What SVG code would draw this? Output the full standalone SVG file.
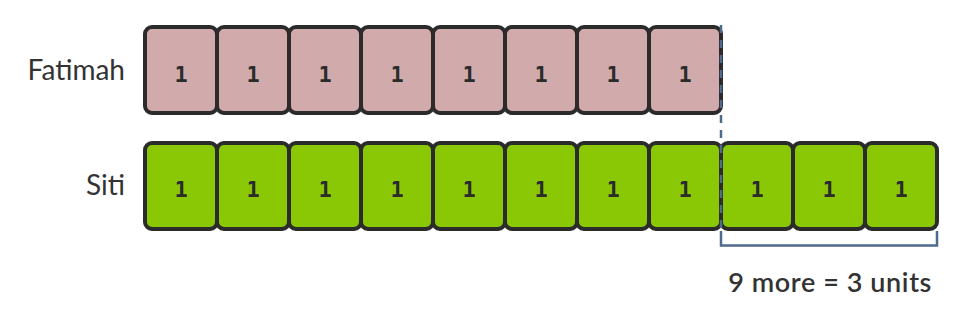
<svg xmlns="http://www.w3.org/2000/svg" width="963" height="320" viewBox="0 0 963 320">
<style>
.f{fill:#d1abab;stroke:#2b2b2b;stroke-width:4}
.s{fill:#8ac806;stroke:#2b2b2b;stroke-width:4}
.n{font-family:"DejaVu Sans Mono","Liberation Mono",monospace;font-weight:bold;font-size:22px;fill:#2b2b2b;text-anchor:middle}
.lbl{font-family:Lato,"Open Sans",sans-serif;font-size:28px;fill:#333;text-anchor:end}
.c{fill:none;stroke:#4f6a8f;stroke-width:2.5}
</style>
<rect width="963" height="320" fill="#fff"/>
<text class="lbl" x="125" y="80">Fatimah</text>
<text class="lbl" x="125" y="195">Siti</text>
<g id="fatimah">
<rect class="f" x="145" y="27" width="72" height="86" rx="7"/><text class="n" x="181" y="82">1</text>
<rect class="f" x="217" y="27" width="72" height="86" rx="7"/><text class="n" x="253" y="82">1</text>
<rect class="f" x="289" y="27" width="72" height="86" rx="7"/><text class="n" x="325" y="82">1</text>
<rect class="f" x="361" y="27" width="72" height="86" rx="7"/><text class="n" x="397" y="82">1</text>
<rect class="f" x="433" y="27" width="72" height="86" rx="7"/><text class="n" x="469" y="82">1</text>
<rect class="f" x="505" y="27" width="72" height="86" rx="7"/><text class="n" x="541" y="82">1</text>
<rect class="f" x="577" y="27" width="72" height="86" rx="7"/><text class="n" x="613" y="82">1</text>
<rect class="f" x="649" y="27" width="72" height="86" rx="7"/><text class="n" x="685" y="82">1</text>
</g>
<g id="siti">
<rect class="s" x="145" y="143" width="72" height="86" rx="7"/><text class="n" x="181" y="197">1</text>
<rect class="s" x="217" y="143" width="72" height="86" rx="7"/><text class="n" x="253" y="197">1</text>
<rect class="s" x="289" y="143" width="72" height="86" rx="7"/><text class="n" x="325" y="197">1</text>
<rect class="s" x="361" y="143" width="72" height="86" rx="7"/><text class="n" x="397" y="197">1</text>
<rect class="s" x="433" y="143" width="72" height="86" rx="7"/><text class="n" x="469" y="197">1</text>
<rect class="s" x="505" y="143" width="72" height="86" rx="7"/><text class="n" x="541" y="197">1</text>
<rect class="s" x="577" y="143" width="72" height="86" rx="7"/><text class="n" x="613" y="197">1</text>
<rect class="s" x="649" y="143" width="72" height="86" rx="7"/><text class="n" x="685" y="197">1</text>
<rect class="s" x="721" y="143" width="72" height="86" rx="7"/><text class="n" x="757" y="197">1</text>
<rect class="s" x="793" y="143" width="72" height="86" rx="7"/><text class="n" x="829" y="197">1</text>
<rect class="s" x="865" y="143" width="72" height="86" rx="7"/><text class="n" x="901" y="197">1</text>
</g>
<g id="connectors">
<line class="c" x1="721" y1="25" x2="721" y2="231" stroke-dasharray="8 7"/>
<path class="c" d="M721 231V245.5H937V231"/>
</g>
<text x="932" y="292" style="font-family:Lato,'Open Sans',sans-serif;font-size:27px;font-weight:600;letter-spacing:0.6px;fill:#333;text-anchor:end">9 more = 3 units</text>
</svg>
